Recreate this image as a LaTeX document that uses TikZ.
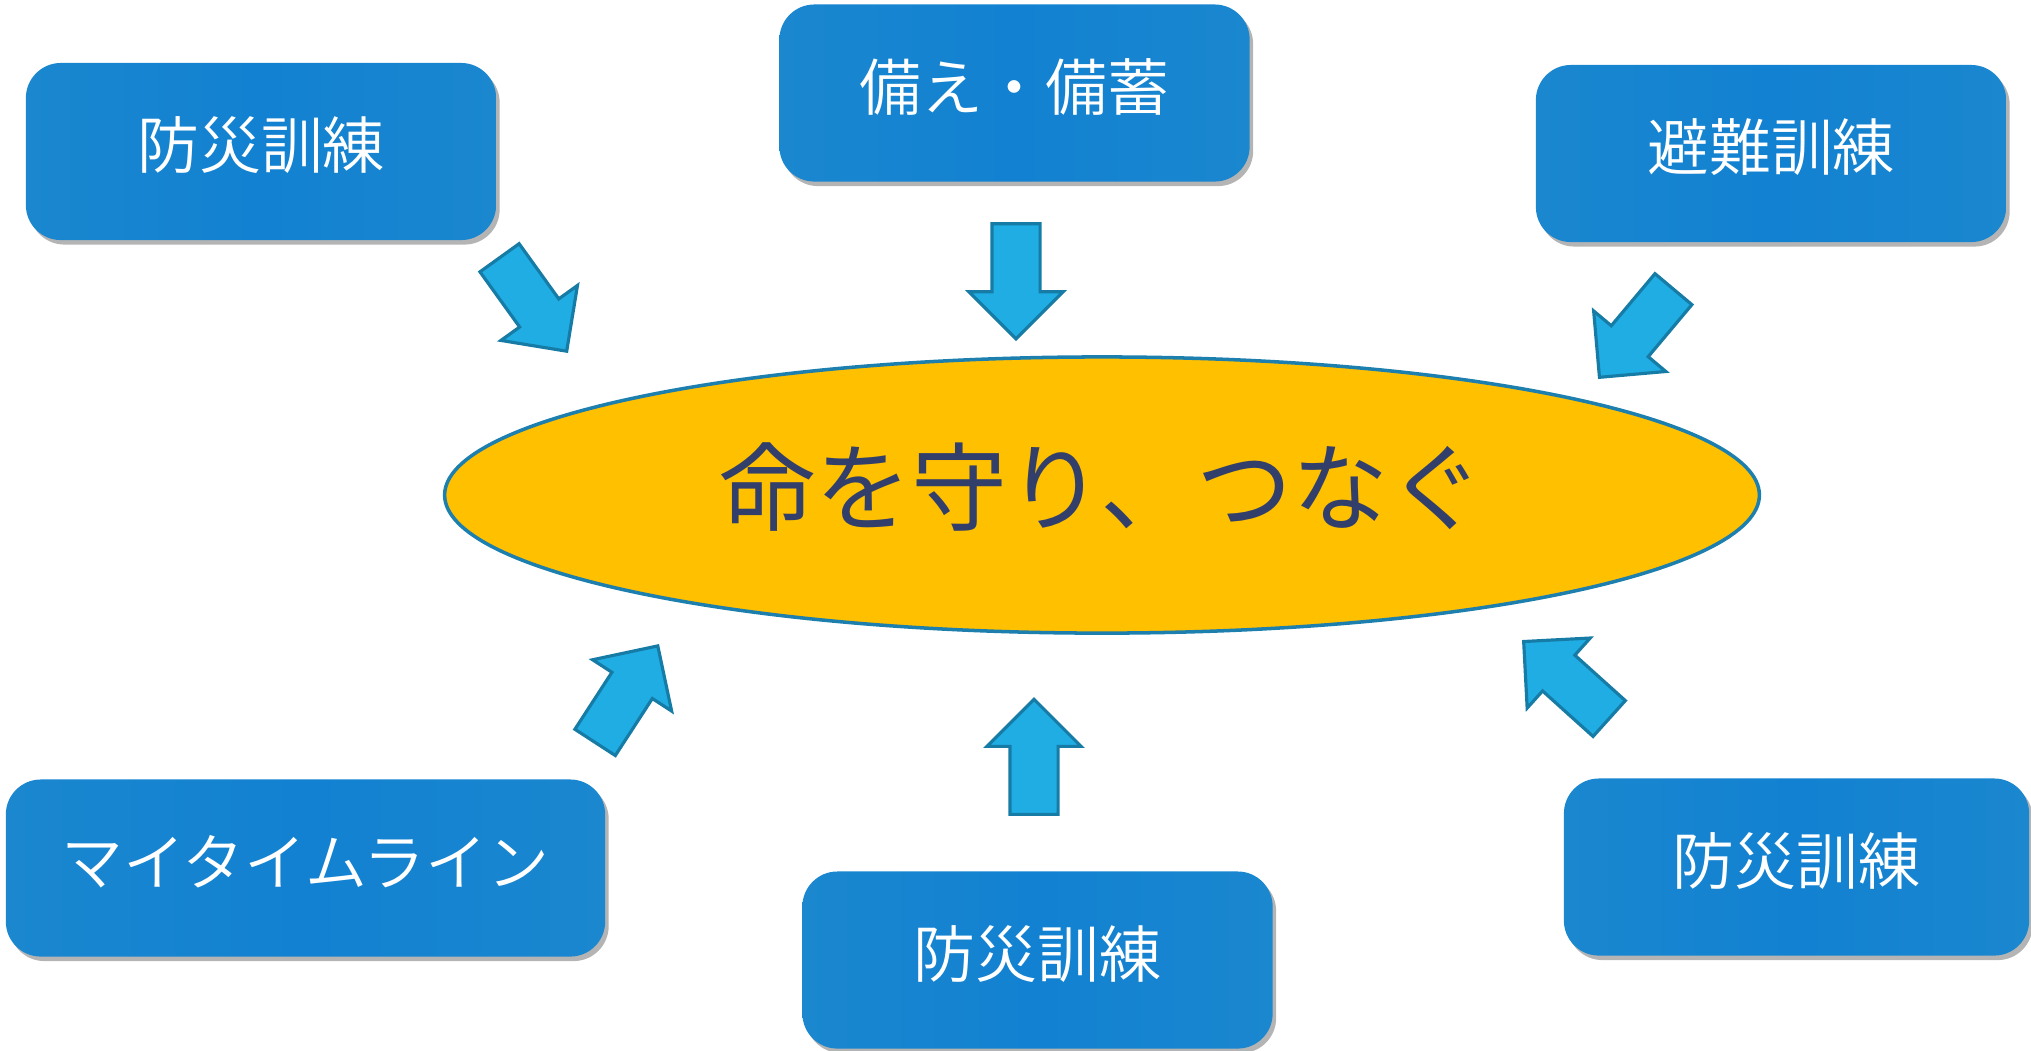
\documentclass[tikz,border=0pt]{standalone}
\usepackage{fontspec}
\IfFontExistsTF{Noto Sans CJK JP DemiLight}{\setmainfont{Noto Sans CJK JP DemiLight}}{\setmainfont{Noto Sans CJK JP Light}}
\newfontfamily\ovalfont{Noto Sans CJK JP}
\usetikzlibrary{shapes.geometric,shapes.arrows,shadows}
\definecolor{boxblue}{HTML}{1281D1}
\definecolor{boxedge}{HTML}{1A87CF}
\definecolor{arrowfill}{HTML}{1FADE3}
\definecolor{arrowline}{HTML}{167CA6}
\definecolor{ovalfill}{HTML}{FFC000}
\definecolor{ovalline}{HTML}{1D7FAE}
\definecolor{textnavy}{HTML}{333F6B}
\tikzset{
    blue-box/.style = {rectangle, rounded corners=0.35cm, minimum width=4.7cm, minimum height=1.77cm, inner sep=0pt,
        left color=boxedge, right color=boxedge, middle color=boxblue, text=white,
        font=\fontsize{17.6pt}{20pt}\selectfont, text height=0.55cm, text depth=0.21cm,
        drop shadow={shadow xshift=0.035cm, shadow yshift=-0.045cm, fill=black!65, opacity=0.45}},
    block-arrow/.style = {single arrow, draw=arrowline, fill=arrowfill, line width=0.9pt, anchor=tip,
        minimum height=1.15cm, minimum width=0.91cm, single arrow head extend=0.23cm, inner xsep=0pt, inner ysep=0.225cm},
    centre-oval/.style = {ellipse, draw=ovalline, fill=ovalfill, line width=1pt, minimum width=13.14cm, minimum height=2.76cm,
        inner sep=0pt, text=textnavy, font=\ovalfont\fontsize{27.3pt}{30pt}\selectfont, text height=0.85cm, text depth=0.29cm},
}
\begin{document}
\begin{tikzpicture}[x=0.01cm, y=-0.01cm]
\useasboundingbox (0,0) rectangle (2031,1050);
% boxes round the centre
\node [blue-box] (drill-nw) at (261,151.5) {防災訓練};
\node [blue-box] (stock) at (1014.5,93) {備え・備蓄};
\node [blue-box] (evac) at (1771,153.5) {避難訓練};
\node [blue-box, minimum width=5.99cm] (timeline) at (305.5,868) {マイタイムライン};
\node [blue-box] (drill-s) at (1037.5,960) {防災訓練};
\node [blue-box, minimum width=4.65cm] (drill-e) at (1796.5,867) {防災訓練};
% centre
\node [centre-oval] (life) at (1102,495) {命を守り、つなぐ};
% arrows, placed by their tips
\node [block-arrow, rotate=-54.3] (arrow-nw) at (568,353) {};
\node [block-arrow, rotate=-90] (arrow-n) at (1016,341) {};
\node [block-arrow, rotate=-130] (arrow-ne) at (1598,379) {};
\node [block-arrow, rotate=57] (arrow-sw) at (659,644) {};
\node [block-arrow, rotate=90] (arrow-s) at (1034,697) {};
\node [block-arrow, rotate=138] (arrow-se) at (1522,640) {};
\end{tikzpicture}
\end{document}
